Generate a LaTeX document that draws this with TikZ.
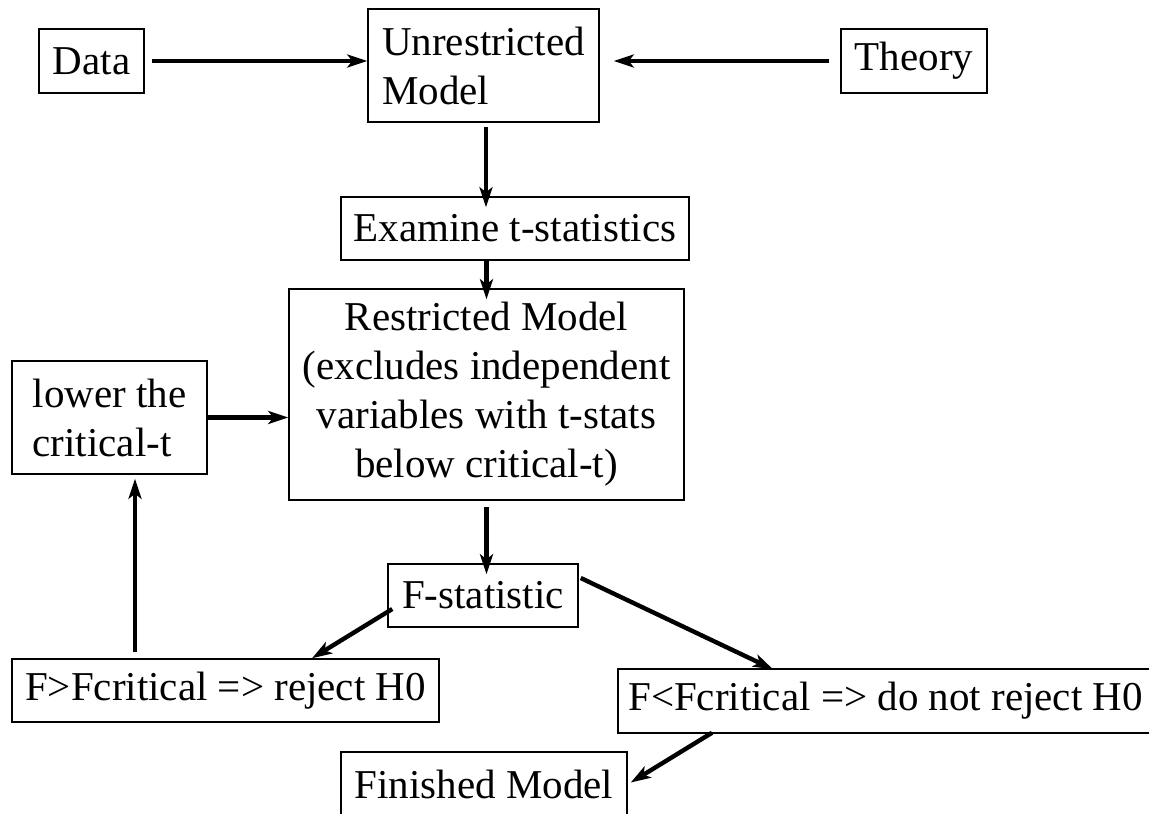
\documentclass[tikz,border=0pt]{standalone}
\usepackage{fontspec}
\setmainfont{Liberation Serif}
\usepackage{tikz}
\usetikzlibrary{
  arrows.meta,
  positioning,
  calc
}
\tikzset{
  % Plain step box: thin black frame
  stepbox/.style={
    rectangle, draw=black, line width=0.75pt,
    inner sep=3pt, align=#1,
    font=\fontsize{20.5}{24.5}\selectfont
  },
  stepbox/.default=center,
  % Thick flow arrow
  arr/.style={
    -{Stealth[length=10pt,width=6.5pt,inset=2.5pt]},
    line width=2.2pt, color=black
  }
}

\begin{document}
\begin{tikzpicture}[x=0.5pt, y=-0.5pt]

  \useasboundingbox (0,0) rectangle (1149,813);
  \clip (0,0) rectangle (1149,813);

  % Inputs
  \node[stepbox, minimum width=52.5pt, minimum height=32pt] (data) at (91.5,61) {Data};
  \node[stepbox=left, minimum width=115.5pt, minimum height=56.5pt] (unres) at (483.5,65.5)
    {Unrestricted\\Model};
  \node[stepbox, minimum width=73pt, minimum height=32pt] (theory) at (914,61) {Theory};

  % Testing
  \node[stepbox, minimum width=174pt, minimum height=31.5pt] (exam) at (515,228.5)
    {Examine t-statistics};
  \node[stepbox, minimum width=197.5pt, minimum height=105.5pt] (restr) at (486.5,394.5)
    {Restricted Model\\(excludes independent\\variables with t-stats\\below critical-t)};
  \node[stepbox=left, minimum width=97.5pt, minimum height=56.5pt] (lower) at (109.5,417.5)
    {lower the\\critical-t};
  \node[stepbox, minimum width=95pt, minimum height=31.5pt] (fstat) at (483,595.5) {F-statistic};

  % Outcomes
  \node[stepbox, minimum width=213.5pt, minimum height=31.5pt] (reject) at (225.5,690.5)
    {F>Fcritical => reject H0};
  \node[stepbox, minimum width=267.5pt, minimum height=32pt] (keep) at (885.5,701)
    {F<Fcritical => do not reject H0};
  \node[stepbox, minimum width=143pt, minimum height=32pt] (finish) at (484,784)
    {Finished Model};

  % Arrows
  \draw[arr, shorten <=3.5pt] (data.east) -- (data.east -| unres.west);
  \draw[arr, shorten <=5.5pt, shorten >=7pt] (theory.west) -- (theory.west -| unres.east);
  \draw[arr, shorten <=2pt, shorten >=-5.5pt] ([xshift=1.25pt]unres.south) -- ([xshift=1.25pt]unres.south |- exam.north);
  \draw[arr, shorten >=-5.5pt] (exam.south -| restr.north) -- (restr.north);
  \draw[arr] (lower.east) -- (lower.east -| restr.west);
  \draw[arr, shorten <=3pt, shorten >=-5.5pt] (restr.south) -- (restr.south |- fstat.north);
  \draw[arr] ([shift={(5,13.5)}]fstat.west) -- ([shift={(86.5,0)}]reject.north);
  \draw[arr] ([shift={(2,-17.5)}]fstat.east) -- ([shift={(-112.5,1)}]keep.north);
  \draw[arr] ([shift={(-173.5,-1)}]keep.south) -- ([shift={(3,-1.5)}]finish.east);
  \draw[arr, shorten <=3pt, shorten >=2pt] ([xshift=-45.25pt]reject.north) -- ([xshift=12.75pt]lower.south);

\end{tikzpicture}
\end{document}
